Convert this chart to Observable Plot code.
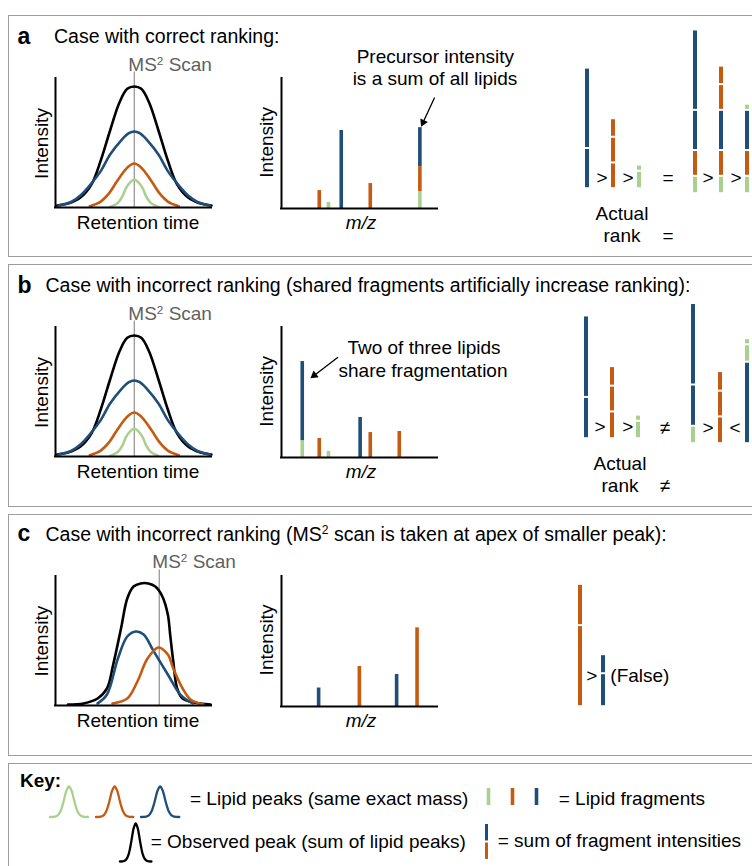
<!DOCTYPE html>
<html><head><meta charset="utf-8">
<script src="https://cdn.jsdelivr.net/npm/d3@7"></script>
<script src="https://cdn.jsdelivr.net/npm/@observablehq/plot@0.6"></script>
<style>
html,body{margin:0;padding:0;background:#fff;}
#fig{position:relative;width:752px;height:866px;overflow:hidden;background:#fff;font-family:"Liberation Sans",Arial,Helvetica,sans-serif;color:#000;}
.box{position:absolute;border:1.5px solid #9c9c9c;box-sizing:border-box;}
.t{position:absolute;left:0;top:0;white-space:nowrap;line-height:1;transform-origin:0 0;}
.sup{font-size:0.62em;position:relative;top:-0.55em;}
.chart{position:absolute;}
.chart svg{overflow:visible;display:block;max-width:none;}
</style></head>
<body><div id="fig"></div>
<script>
// ---------- data ----------
const lipids = ["lipidGreen", "lipidOrange", "lipidBlue"];
const lipidColors = ["#a9d18e", "#c55a11", "#1f4e79"];
const colorDomain = [...lipids, "observed"];
const colorRange = [...lipidColors, "#000000"];

// chromatograms, panels a and b: [retention time, intensity]
const chromObservedAB = [[0.1,1.6],[0.8,3.1],[1.6,7.8],[2.3,17.8],[2.9,36.4],[3.5,59.7],[4.1,81.4],[4.6,92.0],[5.05,93.8],[5.5,92.0],[6.0,81.4],[6.6,59.7],[7.2,36.4],[7.8,17.8],[8.5,7.8],[9.3,3.1],[10.0,1.6]];
const chromBlueAB = [[0.2,1.6],[1.0,4.3],[1.6,9.3],[2.2,17.1],[2.9,28.2],[3.5,41.1],[4.2,51.9],[4.7,57.6],[5.05,58.9],[5.4,57.6],[5.9,51.9],[6.6,41.1],[7.2,28.2],[7.9,17.1],[8.5,9.3],[9.1,4.3],[9.9,1.6]];
const chromOrangeAB = [[2.2,1.0],[2.9,4.6],[3.4,10.5],[3.9,19.5],[4.3,26.6],[4.7,32.0],[5.05,34.1],[5.4,32.0],[5.8,26.6],[6.2,19.5],[6.7,10.5],[7.2,4.6],[7.9,1.0]];
const chromGreenAB = [[3.5,0.5],[4.0,3.6],[4.3,8.9],[4.5,14.7],[4.8,19.7],[5.05,21.7],[5.3,19.7],[5.6,14.7],[5.8,8.9],[6.1,3.6],[6.6,0.5]];
const scanTimeAB = 5.05;

// chromatogram, panel c
const chromObservedC = [[0.8,0.8],[1.8,1.6],[2.7,5.4],[3.3,13.2],[3.7,31.8],[4.2,59.7],[4.6,82.9],[5.0,92.2],[5.45,94.6],[5.95,94.6],[6.4,92.2],[6.85,84.5],[7.2,70.5],[7.35,55.0],[7.55,34.1],[7.8,13.2],[8.15,5.4],[8.85,2.3],[9.95,0.8]];
const chromBlueC = [[2.7,1.6],[3.3,8.5],[4.0,36.4],[4.6,53.5],[5.15,57.4],[5.65,55.0],[6.3,41.9],[7.2,24.0],[8.0,8.5],[8.8,1.6]];
const chromOrangeC = [[3.65,1.6],[4.6,5.4],[5.25,18.6],[5.9,36.4],[6.6,45.0],[7.2,39.5],[7.55,28.7],[8.15,13.2],[8.65,4.7],[9.5,0.8]];
const scanTimeC = 6.65;

// MS2 spectra: m/z, lipid, intensity
const specA_mz = [2.42, 3.01, 3.83, 5.69, 8.87, 8.87, 8.87];
const specA_lipid = ["lipidOrange","lipidGreen","lipidBlue","lipidOrange","lipidGreen","lipidOrange","lipidBlue"];
const specA_int = [13.8, 4.6, 60, 19.2, 13, 19.2, 30];
const specB_mz = [1.33, 1.33, 2.42, 3.01, 5.04, 5.69, 7.55];
const specB_lipid = ["lipidGreen","lipidBlue","lipidOrange","lipidGreen","lipidBlue","lipidOrange","lipidOrange"];
const specB_int = [13, 60.8, 14.6, 4.6, 30.8, 19.2, 20];
const specC_mz = [2.38, 4.99, 7.38, 8.69];
const specC_lipid = ["lipidBlue","lipidOrange","lipidBlue","lipidOrange"];
const specC_int = [14.2, 30.8, 24.6, 60.5];

// annotation arrows (data units of the spectrum)
const noteA = {x1: 9.8, y1: 85, x2: 8.95, y2: 63};
const noteB = {x1: 3.6, y1: 77, x2: 1.86, y2: 61};

// summed fragment intensities (ranking bars): bar, segment lipid, value (bottom to top)
const rankALeft_bar = ["lipidBlue","lipidBlue","lipidOrange","lipidOrange","lipidOrange","lipidGreen","lipidGreen"];
const rankALeft_seg = ["lipidBlue","lipidBlue","lipidOrange","lipidOrange","lipidOrange","lipidGreen","lipidGreen"];
const rankALeft_val = [30, 60, 19.2, 19.2, 13.8, 13, 4.6];
const rankARight_bar = ["lipidBlue","lipidBlue","lipidBlue","lipidBlue","lipidOrange","lipidOrange","lipidOrange","lipidOrange","lipidOrange","lipidGreen","lipidGreen","lipidGreen","lipidGreen"];
const rankARight_seg = ["lipidGreen","lipidOrange","lipidBlue","lipidBlue","lipidGreen","lipidOrange","lipidBlue","lipidOrange","lipidOrange","lipidGreen","lipidOrange","lipidBlue","lipidGreen"];
const rankARight_val = [13, 19.2, 30, 60, 13, 19.2, 30, 19.2, 13.8, 13, 19.2, 30, 4.6];
const rankBLeft_bar = ["lipidBlue","lipidBlue","lipidOrange","lipidOrange","lipidOrange","lipidGreen","lipidGreen"];
const rankBLeft_seg = ["lipidBlue","lipidBlue","lipidOrange","lipidOrange","lipidOrange","lipidGreen","lipidGreen"];
const rankBLeft_val = [30.8, 60.8, 20, 19.2, 14.6, 13, 4.6];
const rankBRight_bar = ["lipidBlue","lipidBlue","lipidBlue","lipidOrange","lipidOrange","lipidOrange","lipidGreen","lipidGreen","lipidGreen"];
const rankBRight_seg = ["lipidGreen","lipidBlue","lipidBlue","lipidOrange","lipidOrange","lipidOrange","lipidBlue","lipidGreen","lipidGreen"];
const rankBRight_val = [13, 30.8, 60.8, 20, 19.2, 14.6, 60.8, 13, 4.6];
const rankC_bar = ["lipidOrange","lipidOrange","lipidBlue","lipidBlue"];
const rankC_seg = ["lipidOrange","lipidOrange","lipidBlue","lipidBlue"];
const rankC_val = [60.5, 30.8, 24.6, 14.2];

// key
const keyPeakT = [-19,-14,-11,-8.5,-6.5,-4.5,-2.5,0,2.5,4.5,6.5,8.5,11,14,19];
const keyPeakI = [0,0.012,0.064,0.19,0.38,0.63,0.87,1,0.87,0.63,0.38,0.19,0.064,0.012,0];
const keyFrag_lipid = ["lipidGreen","lipidOrange","lipidBlue"];
const keyFrag_val = [1, 1, 1];
const keySum_lipid = ["lipidOrange","lipidBlue"];
const keySum_val = [1, 1];

// ---------- helpers ----------
const fig = document.getElementById("fig");
const M = 6;
function label(x, y, html, o = {}) {
  const {size = 19, anchor = "start", weight = "normal", color = "#000", italic = false, rotate = false} = o;
  const d = document.createElement("div");
  d.className = "t";
  d.innerHTML = html;
  d.style.fontSize = size + "px";
  d.style.fontWeight = weight;
  d.style.color = color;
  d.style.fontStyle = italic ? "italic" : "normal";
  const ax = anchor === "middle" ? "-50%" : anchor === "end" ? "-100%" : "0%";
  const b = 0.8465 * size;
  d.style.transform = `translate(${x}px, ${y}px)` + (rotate ? " rotate(-90deg)" : "") + ` translate(${ax}, ${-b}px)`;
  fig.appendChild(d);
}
function box(top, height) {
  const d = document.createElement("div");
  d.className = "box";
  d.style.left = "8px"; d.style.top = top + "px";
  d.style.width = "770px"; d.style.height = height + "px";
  fig.appendChild(d);
}
function put(svg, left, top) {
  const w = document.createElement("div");
  w.className = "chart";
  w.style.left = (left - M) + "px";
  w.style.top = (top - M) + "px";
  w.appendChild(svg);
  fig.appendChild(w);
}
function mk(w, h, x, y, marks) {
  return Plot.plot({
    width: w + 2 * M, height: h + 2 * M, margin: M,
    x: {...x, axis: null}, y: {...y, axis: null},
    color: {domain: colorDomain, range: colorRange},
    style: {background: "transparent", overflow: "visible", maxWidth: "none"},
    marks
  });
}
const curve = (data, key, sw = 2.6) => Plot.line(data, {stroke: () => key, strokeWidth: sw, curve: "catmull-rom"});
const table = (a, b, c, names) => a.map((v, i) => ({[names[0]]: v, [names[1]]: b[i], [names[2]]: c[i]}));

function chromatogram(curves, scanTime) {
  return mk(156, 129, {domain: [0, 10]}, {domain: [0, 100]}, [
    Plot.ruleX([scanTime], {y1: 0, y2: 105, stroke: "#8f8f8f", strokeWidth: 1.2}),
    ...curves.map(([d, k]) => curve(d, k)),
    Plot.ruleX([0], {strokeWidth: 2, stroke: "#000", strokeLinecap: "square"}),
    Plot.ruleY([0], {strokeWidth: 2, stroke: "#000", strokeLinecap: "square"})
  ]);
}
const SW = 156, SH = 130, SX = [0, 10], SY = [0, 100];
function spectrum(mz, lip, inten, note) {
  const t = table(mz, lip, inten, ["mz", "lipid", "intensity"]);
  const marks = [
    Plot.ruleX(t, Plot.stackY({x: "mz", y: "intensity", stroke: "lipid", strokeWidth: 3.6})),
    Plot.ruleX([0], {strokeWidth: 2, stroke: "#000", strokeLinecap: "square"}),
    Plot.ruleY([0], {strokeWidth: 2, stroke: "#000", strokeLinecap: "square"})
  ];
  if (note) {
    // screen direction of the arrow, for a filled head
    const kx = SW / (SX[1] - SX[0]), ky = SH / (SY[1] - SY[0]);
    const vx = (note.x2 - note.x1) * kx, vy = -(note.y2 - note.y1) * ky;
    const n = Math.hypot(vx, vy), ux = vx / n, uy = vy / n;
    const rot = Math.atan2(ux, -uy) * 180 / Math.PI;
    const tipOff = 4.7;
    marks.push(Plot.arrow([note], {x1: "x1", y1: "y1", x2: "x2", y2: "y2", stroke: "#000", strokeWidth: 1.3, headLength: 0, insetEnd: 5}));
    marks.push(Plot.dot([note], {x: "x2", y: "y2", symbol: "triangle", r: 3.1, fill: "#000", stroke: "none", rotate: rot, dx: -ux * tipOff, dy: -uy * tipOff}));
  }
  return mk(SW, SH, {domain: SX}, {domain: SY}, marks);
}
const RK = 1.34, RMAX = 130, BW = 4;
function rankGroup(bar, seg, val, domain, step) {
  const t = table(bar, seg, val, ["bar", "lipid", "value"]);
  return mk(step * (domain.length - 1) + BW, RMAX * RK,
    {type: "band", domain, paddingInner: 1 - BW / step, paddingOuter: 0},
    {domain: [0, RMAX]}, [
    Plot.barY(t, {x: "bar", y: "value", fill: "lipid", insetTop: 1, insetBottom: 1})
  ]);
}
function placeRank(bar, seg, val, domain, firstX, lastX, baseline) {
  const step = (lastX - firstX) / (domain.length - 1);
  put(rankGroup(bar, seg, val, domain, step), firstX - BW / 2, baseline - RMAX * RK);
}

// ---------- boxes ----------
box(15, 242); box(264, 242.5); box(514, 242); box(763, 130);

const P = [15, 264, 512.7];
const sup2 = '<span class="sup">2</span>';

function panelCommon(p, letter, title, titleX, scanX) {
  label(17.5, p + 29, letter, {size: 23, weight: "bold"});
  label(titleX, p + 29, title, {size: 19.5});
  label(scanX, p + 55.7, "MS" + sup2 + " Scan", {color: "#5f5f5f"});
  label(48.3, p + 128.5, "Intensity", {anchor: "middle", rotate: true});
  label(138, p + 214, "Retention time", {anchor: "middle"});
  label(272.7, p + 127.3, "Intensity", {anchor: "middle", rotate: true});
  label(361, p + 214.3, "m/z", {anchor: "middle", italic: true});
}
const rankOrder = ["lipidBlue", "lipidOrange", "lipidGreen"];

// ---------- panel a ----------
panelCommon(P[0], "a", "Case with correct ranking:", 54, 128.3);
put(chromatogram([[chromObservedAB, "observed"], [chromBlueAB, "lipidBlue"], [chromOrangeAB, "lipidOrange"], [chromGreenAB, "lipidGreen"]], scanTimeAB), 55, P[0] + 63);
put(spectrum(specA_mz, specA_lipid, specA_int, noteA), 281, P[0] + 63);
label(435.3, P[0] + 48.3, "Precursor intensity", {anchor: "middle"});
label(435, P[0] + 70.5, "is a sum of all lipids", {anchor: "middle"});
placeRank(rankALeft_bar, rankALeft_seg, rankALeft_val, rankOrder, 587, 639, 188);
placeRank(rankARight_bar, rankARight_seg, rankARight_val, rankOrder, 694, 747, 193);
label(602, 184, "&gt;", {anchor: "middle"});
label(628, 184, "&gt;", {anchor: "middle"});
label(668, 184, "=", {anchor: "middle"});
label(708, 184, "&gt;", {anchor: "middle"});
label(736, 184, "&gt;", {anchor: "middle"});
label(622, 220, "Actual", {anchor: "middle"});
label(622, 242.3, "rank", {anchor: "middle"});
label(668, 242, "=", {anchor: "middle"});

// ---------- panel b ----------
panelCommon(P[1], "b", "Case with incorrect ranking (shared fragments artificially increase ranking):", 45.5, 128.3);
put(chromatogram([[chromObservedAB, "observed"], [chromBlueAB, "lipidBlue"], [chromOrangeAB, "lipidOrange"], [chromGreenAB, "lipidGreen"]], scanTimeAB), 55, P[1] + 63);
put(spectrum(specB_mz, specB_lipid, specB_int, noteB), 281, P[1] + 63);
label(424, 354, "Two of three lipids", {anchor: "middle"});
label(423, 377, "share fragmentation", {anchor: "middle"});
placeRank(rankBLeft_bar, rankBLeft_seg, rankBLeft_val, rankOrder, 586, 638, 437.7);
placeRank(rankBRight_bar, rankBRight_seg, rankBRight_val, rankOrder, 693, 747, 442.7);
label(600, 433, "&gt;", {anchor: "middle"});
label(627.7, 433, "&gt;", {anchor: "middle"});
label(665, 434, "≠", {anchor: "middle"});
label(708, 434, "&gt;", {anchor: "middle"});
label(735, 434, "&lt;", {anchor: "middle"});
label(620, 470, "Actual", {anchor: "middle"});
label(620, 492.3, "rank", {anchor: "middle"});
label(665, 492, "≠", {anchor: "middle"});

// ---------- panel c ----------
panelCommon(P[2], "c", "Case with incorrect ranking (MS" + sup2 + " scan is taken at apex of smaller peak):", 45.5, 152.3);
put(chromatogram([[chromObservedC, "observed"], [chromBlueC, "lipidBlue"], [chromOrangeC, "lipidOrange"]], scanTimeC), 55, P[2] + 63);
put(spectrum(specC_mz, specC_lipid, specC_int, null), 281, P[2] + 63);
placeRank(rankC_bar, rankC_seg, rankC_val, ["lipidOrange", "lipidBlue"], 580, 603.3, 705.7);
label(591.7, 682, "&gt;", {anchor: "middle"});
label(610.3, 682, "(False)");

// ---------- key ----------
const keyPeak = keyPeakT.map((t, i) => [t, keyPeakI[i]]);
function keyPeakPlot(key, w, h) {
  return mk(w, h, {domain: [-19.5, 19.5]}, {domain: [0, 1]}, [curve(keyPeak, key, 2.3)]);
}
label(20, 787, "Key:", {weight: "bold"});
put(keyPeakPlot("lipidGreen", 39, 30.5), 49.3, 785.5);
put(keyPeakPlot("lipidOrange", 38.3, 30.5), 95, 785.5);
put(keyPeakPlot("lipidBlue", 39.3, 30.5), 140, 785.5);
put(keyPeakPlot("observed", 32.4, 38), 119.3, 822.5);
label(190, 805, "= Lipid peaks (same exact mass)");
label(150.7, 848.5, "= Observed peak (sum of lipid peaks)");
const kf = table(keyFrag_lipid, keyFrag_lipid, keyFrag_val, ["bar", "lipid", "value"]);
put(mk(49, 17, {type: "point", domain: keyFrag_lipid, padding: 0}, {domain: [0, 1]}, [
  Plot.ruleX(kf, Plot.stackY({x: "bar", y: "value", stroke: "lipid", strokeWidth: 3.6}))
]), 487, 788);
label(558.7, 805.5, "= Lipid fragments");
const ks = table(keySum_lipid.map(() => "sum"), keySum_lipid, keySum_val, ["bar", "lipid", "value"]);
put(mk(3.6, 37, {type: "band", domain: ["sum"], padding: 0}, {domain: [0, 2]}, [
  Plot.barY(ks, {x: "bar", y: "value", fill: "lipid", insetTop: 1, insetBottom: 1})
]), 486.7 - 1.8, 823);
label(497.7, 847, "= sum of fragment intensities");
</script>
</body></html>
